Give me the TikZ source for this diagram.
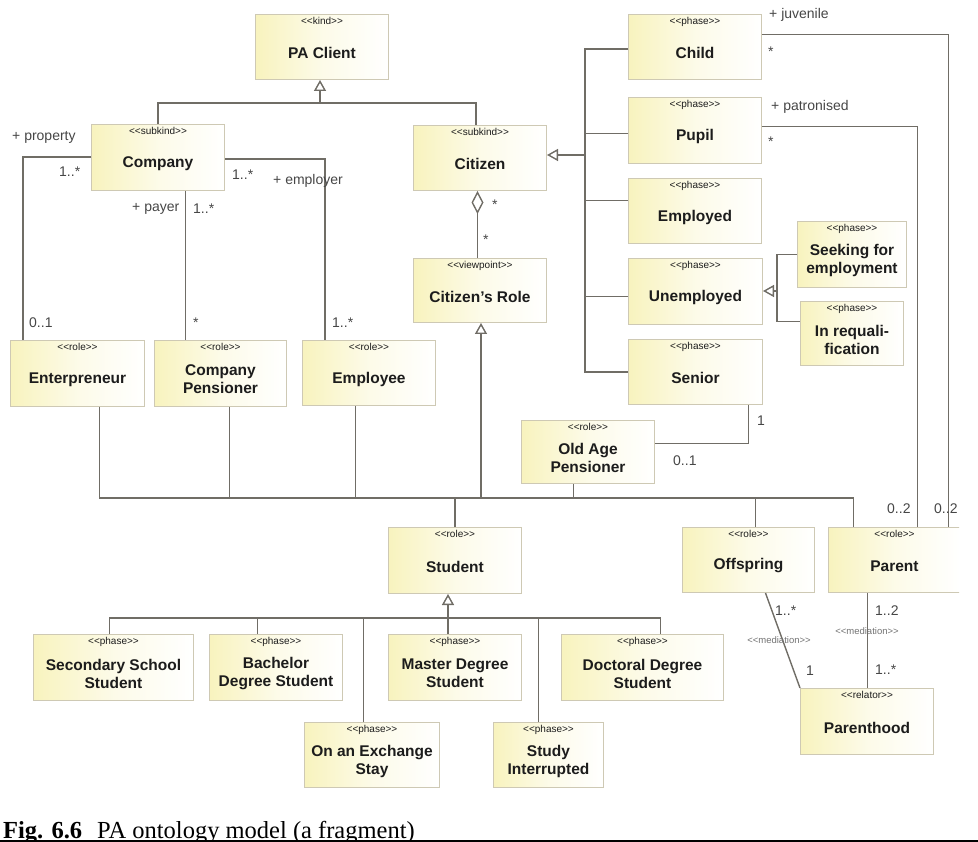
\documentclass[tikz,border=0pt]{standalone}
\usepackage{fontspec}
\setmainfont{Liberation Sans}
\newfontfamily\capfont{Liberation Serif}
\usetikzlibrary{arrows.meta}

\definecolor{boxfill}{RGB}{248,243,190}
\definecolor{boxedge}{RGB}{206,201,180}
\definecolor{wire}{RGB}{112,109,102}
\definecolor{ink}{RGB}{28,28,28}
\definecolor{lblink}{RGB}{70,70,70}

\tikzset{
  umlbox/.style={draw=boxedge, line width=1pt, left color=boxfill, right color=white,
    middle color=boxfill!35!white, inner sep=0pt, anchor=north west},
  stereo/.style={font=\fontsize{10}{11}\selectfont, text=ink, anchor=north, inner sep=0pt},
  boxtitle/.style={font=\fontsize{15.5}{18}\selectfont\bfseries, text=ink, align=center, inner sep=0pt},
  wire/.style={draw=wire, line width=1.4pt},
  gen/.style={wire, -{Triangle[open, length=11pt, width=12pt, fill=white]}},
  agg/.style={wire, {Diamond[open, length=23pt, width=12pt, fill=white]}-},
  lbl/.style={font=\fontsize{14}{16}\selectfont, text=lblink, inner sep=0pt, anchor=west},
  med/.style={font=\fontsize{9.5}{11}\selectfont, text=black!55, inner sep=0pt},
}

% stereotype brackets, kept apart so no ligature mapping turns them into guillemets
\newcommand\sttag[1]{<\kern0pt<#1>\kern0pt>}

% \umlbox{name}{x1}{y1}{x2}{y2}{stereotype}{title}
\newcommand\umlbox[7]{%
  \node[umlbox, minimum width={(#4-#2)*1pt}, minimum height={(#5-#3)*1pt}] (#1) at (#2,#3) {};
  \node[stereo] at ([yshift=-3.5pt]#1.north) {\sttag{#6}};
  \node[boxtitle] at ([yshift=-6pt]#1.center) {#7};
}

\begin{document}
\begin{tikzpicture}[x=1pt,y=-1pt]
\useasboundingbox (0,0) rectangle (978,842);

\begin{scope}
\clip (0,0) rectangle (959,800);

% ---------- classes ----------
\umlbox{pa}{255}{14}{388}{79}{kind}{PA Client}
\umlbox{company}{91}{124}{224}{190}{subkind}{Company}
\umlbox{citizen}{413}{125}{546}{190}{subkind}{Citizen}
\umlbox{child}{628}{14}{761}{79}{phase}{Child}
\umlbox{pupil}{628}{97}{761}{163}{phase}{Pupil}
\umlbox{employed}{628}{178}{761}{243}{phase}{Employed}
\umlbox{unemployed}{628}{258}{762}{324}{phase}{Unemployed}
\umlbox{senior}{628}{339}{762}{404}{phase}{Senior}
\umlbox{seeking}{797}{221}{906}{287}{phase}{Seeking for\\employment}
\umlbox{requal}{800}{301}{903}{365}{phase}{In requali-\\fication}
\umlbox{role}{413}{258}{546}{322}{viewpoint}{Citizen's Role}
\umlbox{entre}{10}{340}{144}{406}{role}{Enterpreneur}
\umlbox{cpens}{154}{340}{286}{406}{role}{Company\\Pensioner}
\umlbox{employee}{302}{340}{435}{405}{role}{Employee}
\umlbox{oap}{521}{420}{654}{483}{role}{Old Age\\Pensioner}
\umlbox{student}{388}{527}{521}{593}{role}{Student}
\umlbox{offspring}{682}{527}{814}{592}{role}{Offspring}
\umlbox{parent}{828}{527}{960}{592}{role}{Parent}
\umlbox{sss}{33}{634}{193}{700}{phase}{Secondary School\\Student}
\umlbox{bach}{209}{634}{342}{700}{phase}{Bachelor\\Degree Student}
\umlbox{master}{388}{634}{521}{700}{phase}{Master Degree\\Student}
\umlbox{doct}{561}{634}{723}{700}{phase}{Doctoral Degree\\Student}
\umlbox{exch}{304}{722}{439}{787}{phase}{On an Exchange\\Stay}
\umlbox{studyint}{493}{722}{603}{787}{phase}{Study\\Interrupted}
\umlbox{parenthood}{800}{688}{933}{754}{relator}{Parenthood}

% ---------- generalisation: PA Client ----------
\coordinate (jpa) at (320,103);
\draw[gen] (jpa) -- (jpa |- pa.south);
\draw[wire] (company.north) |- (jpa) -| ([xshift=-4pt]citizen.north);

% ---------- Company associations ----------
\draw[wire] ([yshift=-33pt]company.north west) -| ([xshift=13pt]entre.north west);
\draw[wire] ([yshift=-35pt]company.north east) -| ([xshift=23pt]employee.north west);
\draw[wire] ([xshift=27.5pt]company.south) coordinate (cp) -- (cp |- cpens.north);

\node[lbl] at (12,137) {+ property};
\node[lbl] at (59,172) {1..*};
\node[lbl] at (232,175) {1..*};
\node[lbl] at (273,181) {+ employer};
\node[lbl] at (132,209) {+ payer};
\node[lbl] at (193,209) {1..*};
\node[lbl] at (29,323) {0..1};
\node[lbl] at (193,323) {*};
\node[lbl] at (332,323) {1..*};

% ---------- Citizen aggregates Citizen's Role ----------
\draw[agg] ([xshift=-2.5pt]citizen.south) coordinate (ag) -- (ag |- role.north);
\node[lbl] at (492,205) {*};
\node[lbl] at (483,240) {*};

% ---------- generalisation: Citizen's Role ----------
\coordinate (jr) at (481,498);
\draw[gen] (jr) -- (jr |- role.south);
\draw[wire] ([xshift=22pt]entre.south) |- (jr) -| ([xshift=-41pt]parent.north);
\draw[wire] ([xshift=9pt]cpens.south) coordinate (b1) -- (b1 |- jr);
\draw[wire] ([xshift=-13.5pt]employee.south) coordinate (b2) -- (b2 |- jr);
\draw[wire] ([xshift=-14.5pt]oap.south) coordinate (b3) -- (b3 |- jr);
\draw[wire] (student.north) -- (student.north |- jr);
\draw[wire] ([xshift=7pt]offspring.north) coordinate (b4) -- (b4 |- jr);

% ---------- generalisation: Citizen phases ----------
\coordinate (jc) at (585,155);
\draw[gen] (jc) -- (jc -| citizen.east);
\coordinate (vt) at (585,49);
\coordinate (vb) at (585,372);
\draw[wire] (child.west |- vt) -- (vt) -- (vb) -- (senior.west |- vb);
\draw[wire] ([yshift=-3pt]pupil.west) coordinate (p1) -- (p1 -| vt);
\draw[wire] ([yshift=10.5pt]employed.west) coordinate (p2) -- (p2 -| vt);
\draw[wire] ([yshift=-5pt]unemployed.west) coordinate (p3) -- (p3 -| vt);

% ---------- generalisation: Unemployed phases ----------
\coordinate (ju) at (777,291);
\draw[gen] (ju) -- (ju -| unemployed.east);
\draw[wire] (seeking.west) -| (ju) |- ([yshift=12pt]requal.west);

% ---------- Senior / Old Age Pensioner ----------
\draw[wire] ([xshift=53pt]senior.south) |- ([yshift=8.5pt]oap.east);
\node[lbl] at (757,421) {1};
\node[lbl] at (673,461) {0..1};

% ---------- Child / Pupil to Parent ----------
\draw[wire] ([yshift=12.5pt]child.east) -| ([xshift=54pt]parent.north);
\draw[wire] ([yshift=4pt]pupil.east) -| ([xshift=23pt]parent.north);
\node[lbl] at (769,15) {+ juvenile};
\node[lbl] at (768,52) {*};
\node[lbl] at (771,107) {+ patronised};
\node[lbl] at (768,142) {*};
\node[lbl] at (887,509) {0..2};
\node[lbl] at (934,509) {0..2};

% ---------- generalisation: Student phases ----------
\coordinate (js) at (448,618);
\draw[gen] (js) -- (js |- student.south);
\draw[wire] ([xshift=-4pt]sss.north) |- (js) -| ([xshift=18pt]doct.north);
\draw[wire] ([xshift=-18.5pt]bach.north) coordinate (s1) -- (s1 |- js);
\draw[wire] (js) -- (js |- master.north);
\draw[wire] ([xshift=-8.5pt]exch.north) coordinate (s2) -- (s2 |- js);
\draw[wire] ([xshift=-10pt]studyint.north) coordinate (s3) -- (s3 |- js);

% ---------- mediations ----------
\draw[wire] ([xshift=17pt]offspring.south) -- (parenthood.north west);
\draw[wire] ([xshift=-27pt]parent.south) coordinate (pp) -- (pp |- parenthood.north);
\node[lbl] at (775,611) {1..*};
\node[med] at (779,640) {\sttag{mediation}};
\node[lbl] at (806,671) {1};
\node[lbl] at (875,611) {1..2};
\node[med] at (867,631) {\sttag{mediation}};
\node[lbl] at (875,670) {1..*};
\end{scope}

% ---------- caption ----------
\begin{scope}
\clip (0,800) rectangle (978,840.5);
\node[anchor=base west, inner sep=0pt, font=\capfont\fontsize{24.5}{26}\selectfont\bfseries] (figno) at (3,838) {Fig. 6.6};
\node[anchor=base west, inner sep=0pt, font=\capfont\fontsize{24.5}{26}\selectfont] (figtext) at (97,838) {PA ontology model (a fragment)};
\end{scope}
\draw[black, line width=1.5pt] (0,841) -- (978,841);
\end{tikzpicture}
\end{document}
